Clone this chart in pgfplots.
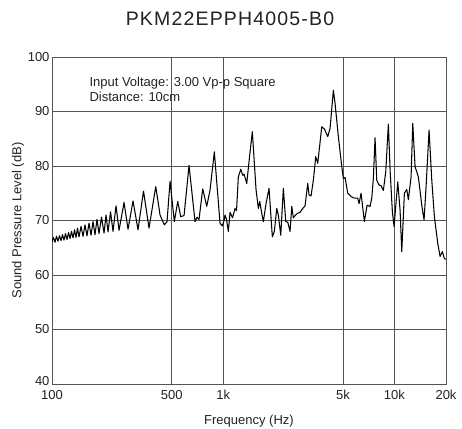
\documentclass[border=0pt]{standalone}
\usepackage{pgfplots}
\pgfplotsset{compat=1.18}
\usepackage{pgfplotstable}
\usepackage{fontspec}
\setmainfont{Liberation Sans}
\newfontfamily\titlefont{Liberation Sans}[LetterSpace=6]
\definecolor{gridc}{HTML}{555555}
\definecolor{txt}{HTML}{222222}
\pgfplotstableread{
f db
100 66.1
102.0 66.9
104.1 66.0
106.2 67.1
108.4 66.2
110.6 67.2
112.9 66.3
115.2 67.4
117.5 66.4
119.9 67.6
122.4 66.5
124.9 67.8
127.4 66.7
130.0 68.0
132.7 66.8
135.4 68.3
138.1 66.9
140.9 68.6
143.8 67.0
147.7 68.9
151.8 67.1
155.9 69.2
160.1 67.2
164.5 69.5
169.0 67.3
173.6 69.8
178.3 67.4
183.2 70.2
188.2 67.6
194.6 70.6
201.3 67.7
206.8 71.0
212.4 67.9
219.7 71.6
227.2 68.0
236.6 72.7
246.3 68.2
263.4 73.3
278.0 68.4
297.3 73.6
317.9 68.3
342.3 75.4
368.7 68.6
403.5 76.2
416.2 73.5
427.5 71.0
453.0 69.2
469.7 69.8
489.1 77.2
518.1 69.8
542.4 73.5
564.7 70.7
590.4 70.9
631.3 80.1
684.4 69.8
703.0 70.6
722.2 70.2
759.1 75.8
801.1 72.6
837.5 75.6
887.3 82.6
957.9 69.5
988.0 69.0
1011 70.0
1024 71.0
1045 70.2
1071 68.0
1096 71.5
1133 70.5
1172 72.2
1196 71.8
1225 78.0
1266 79.4
1300 78.3
1323 78.5
1372 76.8
1421 81.4
1479 86.3
1555 75.6
1604 72.2
1634 73.5
1679 71.3
1715 69.8
1778 73.1
1852 75.9
1894 71.3
1936 67.0
1988 68.0
2054 72.2
2098 71.0
2167 67.3
2244 75.9
2318 69.8
2381 69.7
2456 68.0
2513 72.6
2567 70.5
2627 70.9
2709 71.3
2809 71.5
2913 72.2
3005 72.7
3116 76.8
3171 74.7
3257 74.5
3360 77.4
3470 81.7
3565 80.5
3761 87.2
3895 86.8
4078 85.4
4206 86.9
4397 93.9
4498 91.5
4702 85.4
4922 79.9
5030 77.7
5146 77.9
5336 75.0
5578 74.4
5831 74.1
6104 74.1
6212 73.1
6381 75.0
6671 69.8
6917 72.8
7202 72.6
7369 74.1
7529 77.7
7703 85.2
7881 77.4
8129 76.5
8351 76.4
8613 75.5
8896 79.0
9212 87.7
9426 79.3
9722 71.6
9946 68.9
10454 77.1
10782 71.9
11031 64.3
11424 75.0
11800 75.7
12055 73.8
12501 78.0
12790 87.8
13192 79.9
13791 78.0
14436 72.8
14890 70.1
15296 76.2
15926 86.6
16515 77.4
17103 70.7
17903 65.8
18467 63.4
19047 64.3
19566 63.0
20000 62.9
}\spl
\begin{document}
\begin{tikzpicture}
\path[use as bounding box] (-52pt,-44pt) rectangle (410pt,384pt);
\begin{axis}[
  at={(0,0)}, anchor=south west,
  width=394pt, height=327pt, scale only axis,
  xmode=log, xmin=100, xmax=20000, ymin=40, ymax=100,
  xtick={100,500,1000,5000,10000,20000},
  xticklabels={100,500,1k,5k,10k,20k},
  ytick={40,50,60,70,80,90,100},
  yticklabels={\raisebox{6pt}{40},50,60,70,80,90,100},
  minor xtick={}, minor ytick={},
  major tick length=0pt,
  grid=major,
  grid style={gridc, line width=0.8pt},
  axis line style={gridc, line width=0.8pt},
  /pgf/number format/assume math mode=true,
  ticklabel style={font=\fontsize{13}{15}\selectfont, text=txt},
  xticklabel style={yshift=-3pt},
  yticklabel style={xshift=1pt},
  label style={font=\fontsize{13}{15}\selectfont, text=txt},
  xlabel={Frequency (Hz)},
  ylabel={Sound Pressure Level (dB)},
  xlabel style={at={(axis description cs:0.5,-0.113)}, anchor=center},
  ylabel style={at={(axis description cs:-0.0863,0.5)}, anchor=center},
]
\addplot[black, line width=1.05pt, line join=round] table[x=f, y=db] {\spl};
\node[anchor=base west, font=\fontsize{13}{15}\selectfont, text=txt, inner sep=0pt] at (rel axis cs:0.0947,0.9092) {Input Voltage: 3.00 Vp-p Square};
\node[anchor=base west, font=\fontsize{13}{15}\selectfont, text=txt, inner sep=0pt] at (rel axis cs:0.0947,0.8633) {Distance: 10cm};
\end{axis}
\node[anchor=base, font=\titlefont\fontsize{19.5}{22}\selectfont, text=txt, inner sep=0pt] at (178pt,358pt) {PKM22EPPH4005-B0};
\end{tikzpicture}
\end{document}
